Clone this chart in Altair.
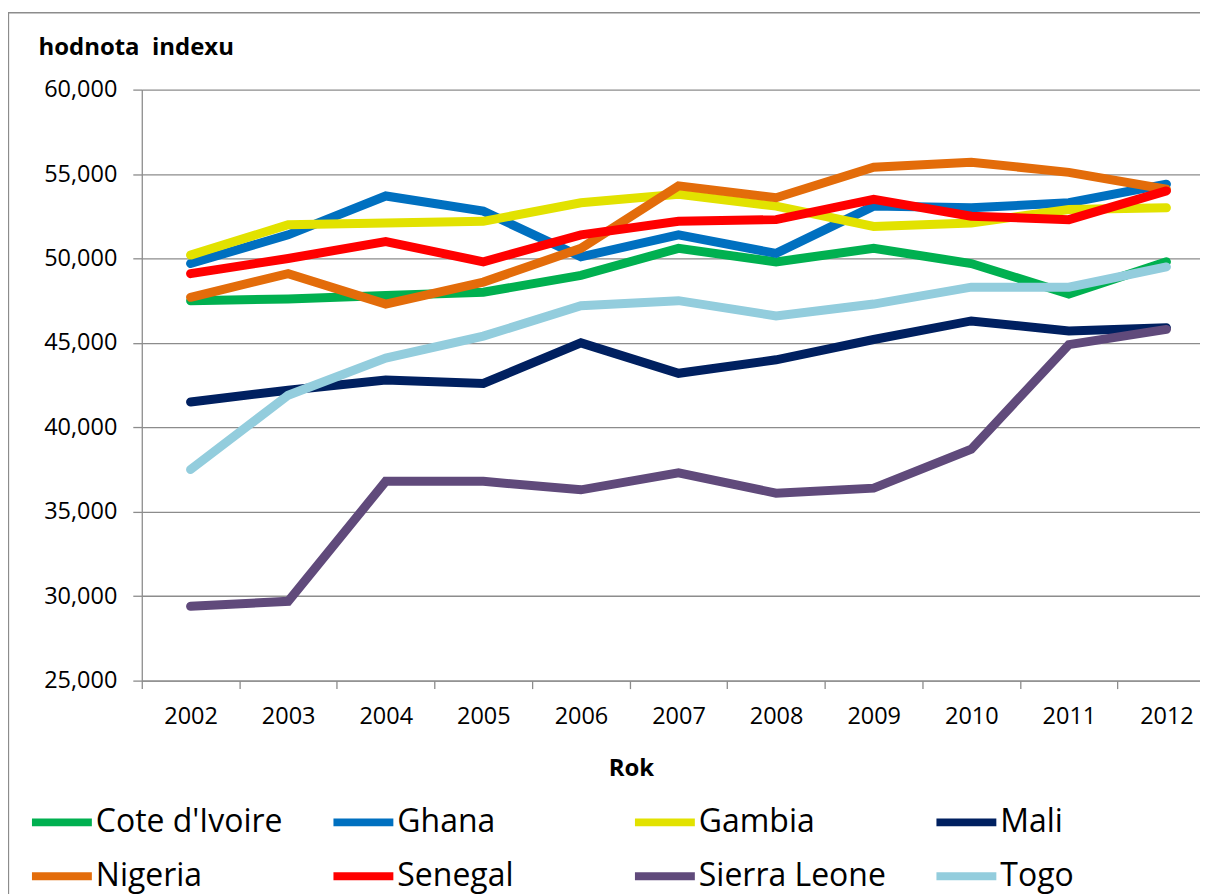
import altair as alt
import pandas as pd

years = [2002, 2003, 2004, 2005, 2006, 2007, 2008, 2009, 2010, 2011, 2012]
series = ["Cote d'Ivoire", "Ghana", "Gambia", "Mali", "Nigeria", "Senegal", "Sierra Leone", "Togo"]
colors = ["#00B050", "#0070C0", "#E2E200", "#002060", "#E36C0A", "#FF0000", "#604A7B", "#93CDDD"]

cote_divoire = [47.5, 47.6, 47.8, 48.0, 49.0, 50.6, 49.8, 50.6, 49.7, 47.9, 49.8]
ghana = [49.7, 51.4, 53.7, 52.8, 50.1, 51.4, 50.3, 53.1, 53.0, 53.3, 54.4]
gambia = [50.2, 52.0, 52.1, 52.2, 53.3, 53.8, 53.1, 51.9, 52.1, 52.9, 53.0]
mali = [41.5, 42.2, 42.8, 42.6, 45.0, 43.2, 44.0, 45.2, 46.3, 45.7, 45.9]
nigeria = [47.7, 49.1, 47.3, 48.6, 50.6, 54.3, 53.6, 55.4, 55.7, 55.1, 54.1]
senegal = [49.1, 50.0, 51.0, 49.8, 51.4, 52.2, 52.3, 53.5, 52.5, 52.3, 54.0]
sierra_leone = [29.4, 29.7, 36.8, 36.8, 36.3, 37.3, 36.1, 36.4, 38.7, 44.9, 45.8]
togo = [37.5, 41.9, 44.1, 45.4, 47.2, 47.5, 46.6, 47.3, 48.3, 48.3, 49.5]

y_ticks = [25, 30, 35, 40, 45, 50, 55, 60]
x_bounds = [2001.5, 2002.5, 2003.5, 2004.5, 2005.5, 2006.5, 2007.5, 2008.5, 2009.5, 2010.5, 2011.5]

values = [cote_divoire, ghana, gambia, mali, nigeria, senegal, sierra_leone, togo]
rows = []
for i, (name, vals) in enumerate(zip(series, values)):
    for yr, v in zip(years, vals):
        rows.append({"Rok": yr, "value": v, "country": name, "ord": i})
df = pd.DataFrame(rows)

FONT = "Open Sans"
GRID = "#8C8C8C"

lines = alt.Chart(df).mark_line(strokeWidth=9, strokeCap="round").encode(
    x=alt.X("Rok:Q",
            scale=alt.Scale(domain=[2001.5, 2012.344], nice=False, zero=False),
            axis=alt.Axis(values=x_bounds, labelExpr="format(datum.value + 0.5, 'd')",
                          labelOffset=48.9, labelFlush=False, labelOverlap=False, labelBound=False,
                          grid=False, tickSize=8, labelPadding=16,
                          title="Rok", titleX=490, titleY=95, titleAlign="center",
                          titleBaseline="alphabetic", titleAnchor="start")),
    y=alt.Y("value:Q",
            scale=alt.Scale(domain=[25, 60], nice=False, zero=False),
            axis=alt.Axis(values=y_ticks,
                          labelExpr="replace(format(datum.value, '.3f'), '.', ',')",
                          tickSize=9, labelPadding=16, grid=True,
                          title="hodnota\u00a0\u00a0indexu", titleAngle=0, titleX=-104, titleY=-35,
                          titleAlign="left", titleBaseline="alphabetic", titleAnchor="start")),
    color=alt.Color("country:N",
                    scale=alt.Scale(domain=series, range=colors),
                    legend=alt.Legend(title=None, orient="none", direction="horizontal",
                                      legendX=-114, legendY=700,
                                      columns=4, gridAlign="all", columnPadding=34, rowPadding=4,
                                      symbolType="stroke", symbolSize=3600, symbolStrokeWidth=8,
                                      labelFont=FONT, labelFontSize=32, labelColor="black",
                                      labelLimit=0, labelOffset=0, padding=0)),
    detail="ord:O",
)

border = alt.Chart(alt.Data(values=[{"a": 1}])).mark_rect(
    fillOpacity=0, stroke=GRID, strokeWidth=1.3).encode(
    x=alt.value(-133.5), x2=alt.value(1300), y=alt.value(-77), y2=alt.value(1000))

chart = alt.layer(border, lines).properties(
    width=1060, height=592,
    autosize=alt.AutoSizeParams(type="none"),
    padding={"left": 134, "top": 81, "right": 0, "bottom": 213},
).configure_view(stroke=None).configure_axis(
    domainColor=GRID, domainWidth=1.3, tickColor=GRID, tickWidth=1.3,
    gridColor=GRID, gridWidth=1.3,
    labelFont=FONT, labelFontSize=23.5, labelColor="black",
    titleFont=FONT, titleFontSize=24, titleFontWeight="bold", titleColor="black",
)

chart.save("out.html", embed_options={"renderer": "svg", "actions": False})
